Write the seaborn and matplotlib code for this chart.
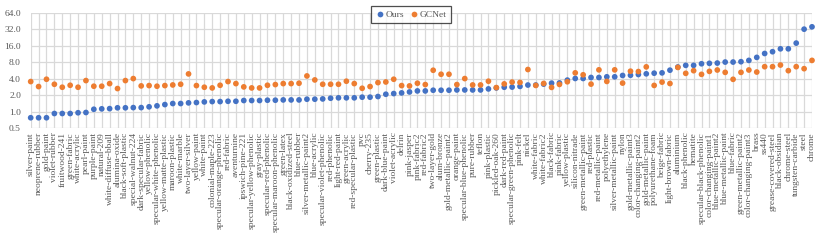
import numpy as np
import pandas as pd
import matplotlib
matplotlib.use("Agg")
import matplotlib.pyplot as plt
from matplotlib.ticker import FixedLocator, FuncFormatter
import seaborn as sns

materials = [
    "silver-paint", "neoprene-rubber", "gold-paint", "violet-rubber", "fruitwood-241",
    "green-fabric", "white-acrylic", "pearl-paint", "purple-paint", "natural-209",
    "white-diffuse-bball", "alumina-oxide", "black-soft-plastic", "special-walnut-224",
    "dark-specular-fabric", "yellow-phenolic", "specular-white-phenolic",
    "yellow-matte-plastic", "maroon-plastic", "white-marble", "two-layer-silver",
    "yellow-paint", "white-paint", "colonial-maple-223", "specular-orange-phenolic",
    "red-fabric", "aventurnine", "ipswich-pine-221", "specular-yellow-phenolic",
    "gray-plastic", "specular-red-phenolic", "specular-maroon-phenolic", "green-latex",
    "black-oxidized-steel", "blue-rubber", "silver-metallic-paint2", "blue-acrylic",
    "specular-violet-phenolic", "red-phenolic", "light-red-paint", "green-acrylic",
    "red-specular-plastic", "pvc", "cherry-235", "green-plastic", "dark-blue-paint",
    "violet-acrylic", "delrin", "pink-jasper", "pink-fabric2", "red-fabric2",
    "two-layer-gold", "alum-bronze", "gold-metallic-paint2", "orange-paint",
    "specular-blue-phenolic", "pure-rubber", "teflon", "pink-plastic", "pickled-oak-260",
    "dark-red-paint", "specular-green-phenolic", "pink-felt", "nickel", "white-fabric",
    "white-fabric2", "black-fabric", "pink-fabric", "yellow-plastic", "silicon-nitrade",
    "green-metallic-paint", "red-plastic", "red-metallic-paint", "polyethylene",
    "silver-metallic-paint", "nylon", "gold-metallic-paint3", "color-changing-paint2",
    "gold-metallic-paint", "polyurethane-foam", "beige-fabric", "light-brown-fabric",
    "aluminium", "black-phenolic", "hematite", "specular-black-phenolic",
    "color-changing-paint1", "blue-metallic-paint2", "blue-metallic-paint", "blue-fabric",
    "green-metallic-paint2", "color-changing-paint3", "brass", "ss440",
    "grease-covered-steel", "black-obsidian", "chrome-steel", "tungsten-carbide",
    "steel", "chrome",
]

ours = [
    0.77, 0.77, 0.77, 0.92, 0.92, 0.92, 0.95, 0.96, 1.10, 1.12,
    1.13, 1.17, 1.17, 1.18, 1.18, 1.22, 1.27, 1.34, 1.40, 1.40,
    1.44, 1.46, 1.50, 1.52, 1.52, 1.54, 1.54, 1.59, 1.59, 1.59,
    1.61, 1.61, 1.63, 1.63, 1.63, 1.68, 1.68, 1.70, 1.75, 1.78,
    1.78, 1.78, 1.83, 1.83, 1.88, 2.07, 2.13, 2.19, 2.28, 2.38,
    2.38, 2.45, 2.45, 2.45, 2.48, 2.48, 2.48, 2.48, 2.59, 2.70,
    2.78, 2.80, 2.88, 3.05, 3.05, 3.17, 3.30, 3.33, 3.75, 4.02,
    4.02, 4.19, 4.19, 4.31, 4.31, 4.56, 4.60, 4.75, 4.89, 5.02,
    5.09, 5.70, 6.51, 6.98, 6.98, 7.47, 7.60, 7.69, 8.02, 8.02,
    8.14, 8.60, 9.76, 11.5, 12.4, 14.0, 14.0, 17.8, 32.0, 35.3,
]

gcnet = [
    3.53, 2.86, 3.89, 3.15, 2.78, 3.02, 2.78, 3.68, 2.90, 2.90,
    3.24, 2.63, 3.68, 4.00, 2.94, 2.98, 2.90, 2.98, 3.06, 3.15,
    4.87, 2.98, 2.78, 2.70, 3.02, 3.53, 3.24, 2.82, 2.70, 2.70,
    3.02, 3.11, 3.24, 3.24, 3.29, 4.47, 3.78, 3.15, 3.15, 3.15,
    3.58, 3.24, 2.66, 2.86, 3.38, 3.47, 3.89, 2.98, 2.94, 3.29,
    3.11, 5.68, 4.80, 4.80, 3.11, 4.00, 3.06, 3.06, 3.58, 2.74,
    3.20, 3.45, 3.40, 5.86, 3.00, 3.26, 2.76, 3.13, 3.50, 5.09,
    4.69, 3.17, 5.78, 3.55, 5.78, 3.31, 5.46, 5.38, 6.55, 3.00,
    3.45, 3.25, 6.40, 4.99, 5.58, 4.78, 5.42, 5.74, 5.20, 3.88,
    5.20, 5.74, 5.27, 6.60, 6.60, 7.07, 5.58, 6.60, 6.07, 8.60,
]

y_ticks = [0.5, 1, 2, 4, 8, 16, 32, 64]

df = pd.concat([
    pd.DataFrame({"material": materials, "value": ours, "method": "Ours"}),
    pd.DataFrame({"material": materials, "value": gcnet, "method": "GCNet"}),
])
df["x"] = df["material"].map({m: i for i, m in enumerate(materials)})

sns.set_style("white")
plt.rcParams["font.family"] = ["Liberation Serif", "DejaVu Serif"]
text_color = "#595959"
grid_color = "#d9d9d9"

fig = plt.figure(figsize=(8.23, 2.44), dpi=100)
ax = fig.add_axes([30.7 / 823, 116 / 244, (812 - 30.7) / 823, (128 - 12.7) / 244])

sns.scatterplot(data=df, x="x", y="value", hue="method",
                palette={"Ours": "#4472C4", "GCNet": "#ED7D31"},
                s=17, linewidth=0, ax=ax, zorder=3, clip_on=False)

ax.set_yscale("log", base=2)
ax.set_ylim(0.5, 64)
ax.set_xlim(0, len(materials) - 1)
ax.yaxis.set_major_locator(FixedLocator(y_ticks))
ax.yaxis.set_minor_locator(FixedLocator([]))
ax.yaxis.set_major_formatter(FuncFormatter(lambda v, p: f"{v:.1f}"))
ax.set_xticks(range(len(materials)))
ax.set_xticklabels(materials, rotation=90, fontsize=6.8, color=text_color)
ax.tick_params(axis="y", labelsize=6.8, labelcolor=text_color, length=0, pad=7)
ax.tick_params(axis="x", length=0, pad=3)
ax.set_xlabel("")
ax.set_ylabel("")

ax.grid(True, color=grid_color, linewidth=0.9)
ax.set_axisbelow(True)
for s in ax.spines.values():
    s.set_visible(False)

leg = ax.legend(loc="upper center", bbox_to_anchor=(0.487, 1.055), ncol=2,
                fontsize=6.8, frameon=True, fancybox=False, handletextpad=0.1,
                columnspacing=0.5, borderpad=0.45, markerscale=1.0,
                handlelength=1.0, borderaxespad=0)
leg.get_frame().set_edgecolor("#222222")
leg.get_frame().set_linewidth(0.9)
for t in leg.get_texts():
    t.set_color(text_color)
leg.set_zorder(5)

fig.savefig("out.png", dpi=100)
